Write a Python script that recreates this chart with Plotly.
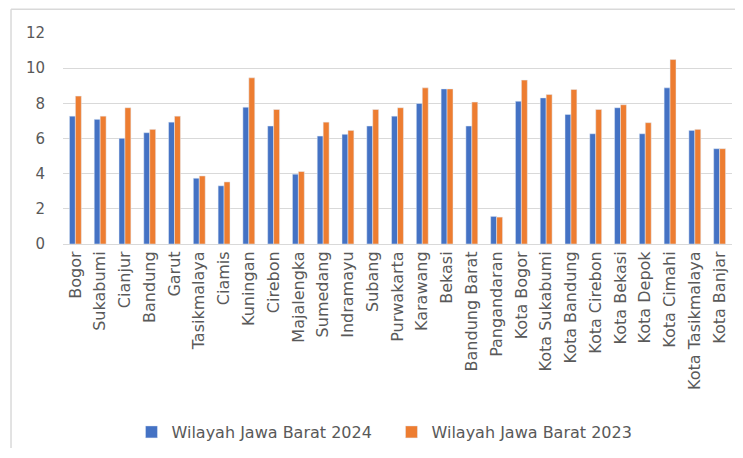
import plotly.graph_objects as go

categories = ["Bogor", "Sukabumi", "Cianjur", "Bandung", "Garut", "Tasikmalaya", "Ciamis",
              "Kuningan", "Cirebon", "Majalengka", "Sumedang", "Indramayu", "Subang",
              "Purwakarta", "Karawang", "Bekasi", "Bandung Barat", "Pangandaran",
              "Kota Bogor", "Kota Sukabumi", "Kota Bandung", "Kota Cirebon", "Kota Bekasi",
              "Kota Depok", "Kota Cimahi", "Kota Tasikmalaya", "Kota Banjar"]

values_2024 = [7.27, 7.09, 6.01, 6.33, 6.93, 3.74, 3.31, 7.78, 6.71, 3.97, 6.14, 6.24, 6.71,
               7.27, 7.99, 8.82, 6.71, 1.57, 8.12, 8.31, 7.37, 6.27, 7.75, 6.27, 8.88, 6.46, 5.42]
values_2023 = [8.41, 7.27, 7.75, 6.52, 7.27, 3.87, 3.53, 9.45, 7.65, 4.12, 6.93, 6.46, 7.65,
               7.75, 8.88, 8.82, 8.07, 1.53, 9.32, 8.50, 8.79, 7.65, 7.92, 6.90, 10.49, 6.52, 5.42]

y_ticks = [0, 2, 4, 6, 8, 10, 12]

fig = go.Figure()
fig.add_trace(go.Bar(x=categories, y=values_2024, name="Wilayah Jawa Barat 2024",
                     marker_color="#4472C4"))
fig.add_trace(go.Bar(x=categories, y=values_2023, name="Wilayah Jawa Barat 2023",
                     marker_color="#ED7D31"))

frame = "#D9D9D9"
fig.update_layout(
    width=727, height=442,
    margin=dict(l=55, r=3, t=25, b=205),
    paper_bgcolor="white", plot_bgcolor="white",
    barmode="group", bargap=0.52, bargroupgap=0.0,
    font=dict(family="DejaVu Sans, sans-serif", color="#595959", size=15),
    showlegend=True,
    legend=dict(orientation="h", x=0.491, xanchor="center", y=-0.882, yanchor="middle",
                font=dict(size=16, color="#595959"), itemwidth=30, traceorder="normal",
                entrywidth=215),
    xaxis=dict(tickangle=-90, showgrid=False, showline=True, linecolor="#D9D9D9",
               tickfont=dict(size=16, color="#595959"), ticks=""),
    yaxis=dict(range=[0, 12], tickvals=y_ticks, showgrid=True, gridcolor="#D9D9D9",
               zeroline=False, showline=False, ticks="", ticklabelstandoff=17,
               tickfont=dict(size=15, color="#595959")),
    shapes=[
        dict(type="line", xref="paper", yref="paper", x0=-0.0777, x1=-0.0777,
             y0=-0.967, y1=1.113, line=dict(color=frame, width=1.5)),
        dict(type="line", xref="paper", yref="paper", x0=-0.0777, x1=1.0045,
             y0=1.113, y1=1.113, line=dict(color=frame, width=1.5)),
    ],
)

fig.write_html("out.html")
